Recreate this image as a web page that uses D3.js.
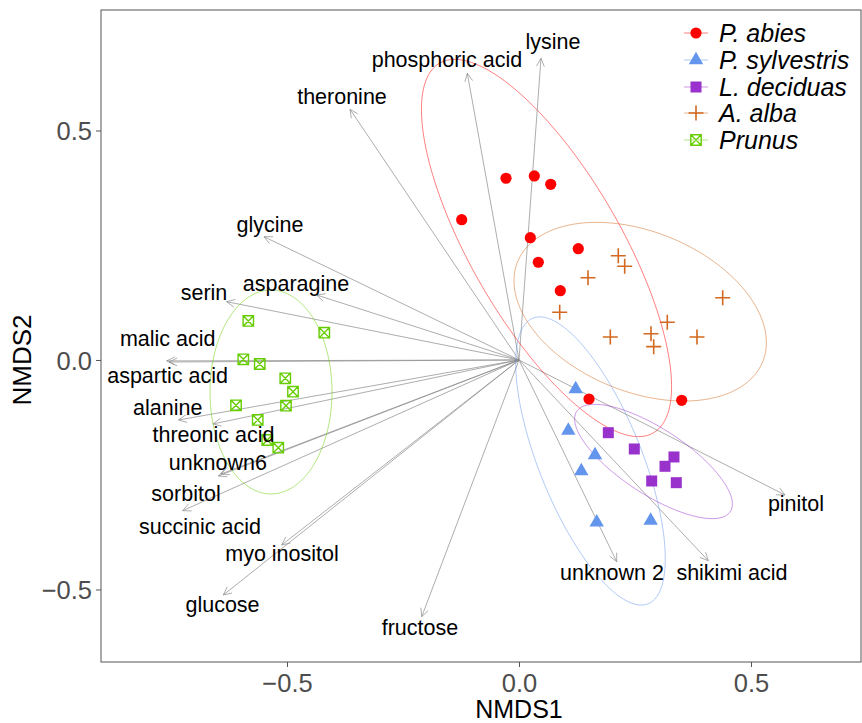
<!DOCTYPE html>
<html>
<head>
<meta charset="utf-8">
<script src="https://cdn.jsdelivr.net/npm/d3@7"></script>
<style>
  body { margin: 0; background: #fff; }
  svg { display: block; font-family: "Liberation Sans", Arial, Helvetica, sans-serif; }
</style>
</head>
<body>
<svg id="chart" width="862" height="723"></svg>
<script>
// ---------- DATA ----------
const groups = ["P. abies", "P. sylvestris", "L. deciduas", "A. alba", "Prunus"];
const groupColors = ["#ff0000", "#6495ED", "#9932CC", "#D2691E", "#66CD00"];

const abiesX = [-0.1235, -0.028, 0.033, 0.0683, 0.0244, 0.1278, 0.0416, 0.089, 0.1509, 0.3506];
const abiesY = [0.3057, 0.3959, 0.4009, 0.3828, 0.2664, 0.2425, 0.2129, 0.151, -0.085, -0.0878];

const sylvX = [0.1222, 0.1063, 0.1638, 0.1343, 0.1675, 0.2838];
const sylvY = [-0.0632, -0.154, -0.207, -0.2418, -0.3536, -0.3501];

const decidX = [0.1925, 0.2485, 0.334, 0.3147, 0.286, 0.339];
const decidY = [-0.1584, -0.1939, -0.2113, -0.2316, -0.2636, -0.2673];

const albaX = [0.214, 0.2278, 0.1487, 0.439, 0.0877, 0.3196, 0.1968, 0.2845, 0.2903, 0.3836];
const albaY = [0.2272, 0.2041, 0.1793, 0.1357, 0.1039, 0.0821, 0.0501, 0.0573, 0.029, 0.0501];

const prunusX = [-0.5834, -0.4196, -0.5942, -0.5588, -0.5037, -0.4871, -0.6099, -0.5022, -0.5631, -0.5425, -0.5188];
const prunusY = [0.085, 0.0595, 0.0015, -0.0087, -0.0399, -0.0691, -0.0987, -0.0996, -0.1307, -0.1743, -0.1911];

// ellipse parameters per group (centre, semi-axes, rotation in degrees)
const ellCx = [0.0593, 0.1541, 0.2899, 0.2612, -0.5345];
const ellCy = [0.244, -0.220, -0.2211, 0.1052, -0.0697];
const ellA  = [0.464, 0.335, 0.1983, 0.2857, 0.2222];
const ellB  = [0.162, 0.111, 0.0713, 0.1739, 0.1315];
const ellAngle = [-60.3, -68.3, -33.5, -22.7, 90];

// environmental vectors
const vecNames = ["lysine", "phosphoric acid", "theronine", "glycine", "asparagine", "serin",
  "malic acid", "aspartic acid", "alanine", "threonic acid", "unknown6", "succinic acid",
  "sorbitol", "myo inositol", "glucose", "fructose", "unknown 2", "shikimi acid", "pinitol"];
const vecX = [0.0474, -0.1114, -0.3642, -0.5496, -0.436, -0.63,
  -0.7593, -0.7543, -0.7338, -0.6595, -0.648, -0.6422,
  -0.7248, -0.5114, -0.6373, -0.2097, 0.2106, 0.408, 0.5733];
const vecY = [0.6573, 0.6246, 0.5462, 0.2686, 0.1416, 0.127,
  -0.002, -0.0044, -0.1307, -0.1394, -0.2527, -0.2484,
  -0.3283, -0.403, -0.512, -0.5593, -0.4394, -0.4373, -0.2941];
const labX = [0.0733, -0.1552, -0.3815, -0.5366, -0.4806, -0.6789,
  -0.7571, -0.7575, -0.7571, -0.6585, -0.6491, -0.6875,
  -0.7177, -0.5108, -0.6390, -0.2134, 0.2004, 0.459, 0.597];
const labY = [0.6928, 0.6536, 0.573, 0.2941, 0.1656, 0.1460,
  0.0458, -0.0342, -0.1052, -0.1634, -0.2237, -0.3635,
  -0.2926, -0.4227, -0.5338, -0.5839, -0.464, -0.464, -0.3137];

const xTicks = [-0.5, 0.0, 0.5];
const yTicks = [-0.5, 0.0, 0.5];

// ---------- CHART ----------
const svg = d3.select("#chart");
const L = 101, R = 861, T = 10, B = 662;
const x = d3.scaleLinear().domain([-0.9009, 0.7371]).range([L, R]);
const y = d3.scaleLinear().domain([-0.658, 0.7625]).range([B, T]);

svg.append("clipPath").attr("id", "clip")
  .append("rect").attr("x", L).attr("y", T).attr("width", R - L).attr("height", B - T);

const plot = svg.append("g").attr("clip-path", "url(#clip)");

// arrows
const arrowG = plot.append("g");
vecNames.forEach((n, i) => {
  const x0 = x(0), y0 = y(0), x1 = x(vecX[i]), y1 = y(vecY[i]);
  arrowG.append("line").attr("x1", x0).attr("y1", y0).attr("x2", x1).attr("y2", y1)
    .attr("stroke", "#8a8a8a").attr("stroke-width", 0.7);
  const ang = Math.atan2(y1 - y0, x1 - x0);
  const len = 9, spread = Math.PI / 7;
  const p1 = [x1 - len * Math.cos(ang - spread), y1 - len * Math.sin(ang - spread)];
  const p2 = [x1 - len * Math.cos(ang + spread), y1 - len * Math.sin(ang + spread)];
  arrowG.append("path")
    .attr("d", `M${p1[0]},${p1[1]}L${x1},${y1}L${p2[0]},${p2[1]}`)
    .attr("fill", "none").attr("stroke", "#8a8a8a").attr("stroke-width", 0.7);
});

// ellipses
const ellG = plot.append("g");
groups.forEach((g, i) => {
  const th = ellAngle[i] * Math.PI / 180;
  const pts = d3.range(0, 201).map(k => {
    const t = k / 200 * 2 * Math.PI;
    const dx = ellA[i] * Math.cos(t) * Math.cos(th) - ellB[i] * Math.sin(t) * Math.sin(th);
    const dy = ellA[i] * Math.cos(t) * Math.sin(th) + ellB[i] * Math.sin(t) * Math.cos(th);
    return [x(ellCx[i] + dx), y(ellCy[i] + dy)];
  });
  ellG.append("path").attr("d", d3.line()(pts) + "Z")
    .attr("fill", "none").attr("stroke", groupColors[i]).attr("stroke-opacity", 0.5)
    .attr("stroke-width", 1);
});

// points
function drawMarker(sel, gi, cx, cy) {
  const c = groupColors[gi];
  if (gi === 0) {
    sel.append("circle").attr("cx", cx).attr("cy", cy).attr("r", 5.6).attr("fill", c);
  } else if (gi === 1) {
    sel.append("path").attr("d", d3.symbol(d3.symbolTriangle, 90)())
      .attr("transform", `translate(${cx},${cy})`).attr("fill", c);
  } else if (gi === 2) {
    sel.append("rect").attr("x", cx - 5.5).attr("y", cy - 5.5).attr("width", 11).attr("height", 11)
      .attr("fill", c);
  } else if (gi === 3) {
    sel.append("path").attr("d", `M${cx - 7.5},${cy}H${cx + 7.5}M${cx},${cy - 7.5}V${cy + 7.5}`)
      .attr("stroke", c).attr("stroke-width", 1.6).attr("fill", "none");
  } else {
    const h = 5.2;
    sel.append("path")
      .attr("d", `M${cx - h},${cy - h}H${cx + h}V${cy + h}H${cx - h}Z M${cx - h},${cy - h}L${cx + h},${cy + h}M${cx + h},${cy - h}L${cx - h},${cy + h}`)
      .attr("stroke", c).attr("stroke-width", 1.4).attr("fill", "none");
  }
}
const ptG = plot.append("g");
const allX = [abiesX, sylvX, decidX, albaX, prunusX];
const allY = [abiesY, sylvY, decidY, albaY, prunusY];
allX.forEach((xs, gi) => {
  xs.forEach((v, k) => drawMarker(ptG, gi, x(v), y(allY[gi][k])));
});

// labels
const labG = plot.append("g");
vecNames.forEach((n, i) => {
  labG.append("text").attr("x", x(labX[i])).attr("y", y(labY[i]))
    .attr("text-anchor", "middle").attr("dominant-baseline", "central")
    .attr("font-size", 21.5).attr("fill", "#000").text(n);
});

// panel border
svg.append("rect").attr("x", L).attr("y", T).attr("width", R - L).attr("height", B - T)
  .attr("fill", "none").attr("stroke", "#555").attr("stroke-width", 1);

// axes
const fmt = d3.format(".1f");
const xAxis = svg.append("g").attr("transform", `translate(0,${B})`)
  .call(d3.axisBottom(x).tickValues(xTicks).tickFormat(fmt).tickSize(5).tickPadding(3));
const yAxis = svg.append("g").attr("transform", `translate(${L},0)`)
  .call(d3.axisLeft(y).tickValues(yTicks).tickFormat(fmt).tickSize(5).tickPadding(4));
[xAxis, yAxis].forEach(a => {
  a.select(".domain").remove();
  a.selectAll(".tick line").attr("stroke", "#555");
  a.selectAll(".tick text").attr("fill", "#4d4d4d").attr("font-size", 25.5)
    .attr("font-family", "'Liberation Sans', Arial, sans-serif");
});
xAxis.selectAll(".tick text").attr("dy", "0.85em");
yAxis.selectAll(".tick text").attr("dy", "0.36em");

svg.append("text").attr("x", x(0)).attr("y", 709)
  .attr("text-anchor", "middle").attr("dominant-baseline", "central")
  .attr("font-size", 25).attr("fill", "#000").text("NMDS1");
svg.append("text").attr("transform", `translate(22,${y(0)}) rotate(-90)`)
  .attr("text-anchor", "middle").attr("dominant-baseline", "central")
  .attr("font-size", 26).attr("fill", "#000").text("NMDS2");

// legend
const legY = [33, 60, 87, 113, 140];
const leg = svg.append("g");
groups.forEach((g, i) => {
  leg.append("line").attr("x1", 684).attr("x2", 708).attr("y1", legY[i]).attr("y2", legY[i])
    .attr("stroke", groupColors[i]).attr("stroke-opacity", 0.5).attr("stroke-width", 1);
  drawMarker(leg, i, 696, legY[i]);
  leg.append("text").attr("x", 719).attr("y", legY[i])
    .attr("dominant-baseline", "central").attr("font-size", 25).attr("font-style", "italic")
    .attr("fill", "#000").text(g);
});
</script>
</body>
</html>
